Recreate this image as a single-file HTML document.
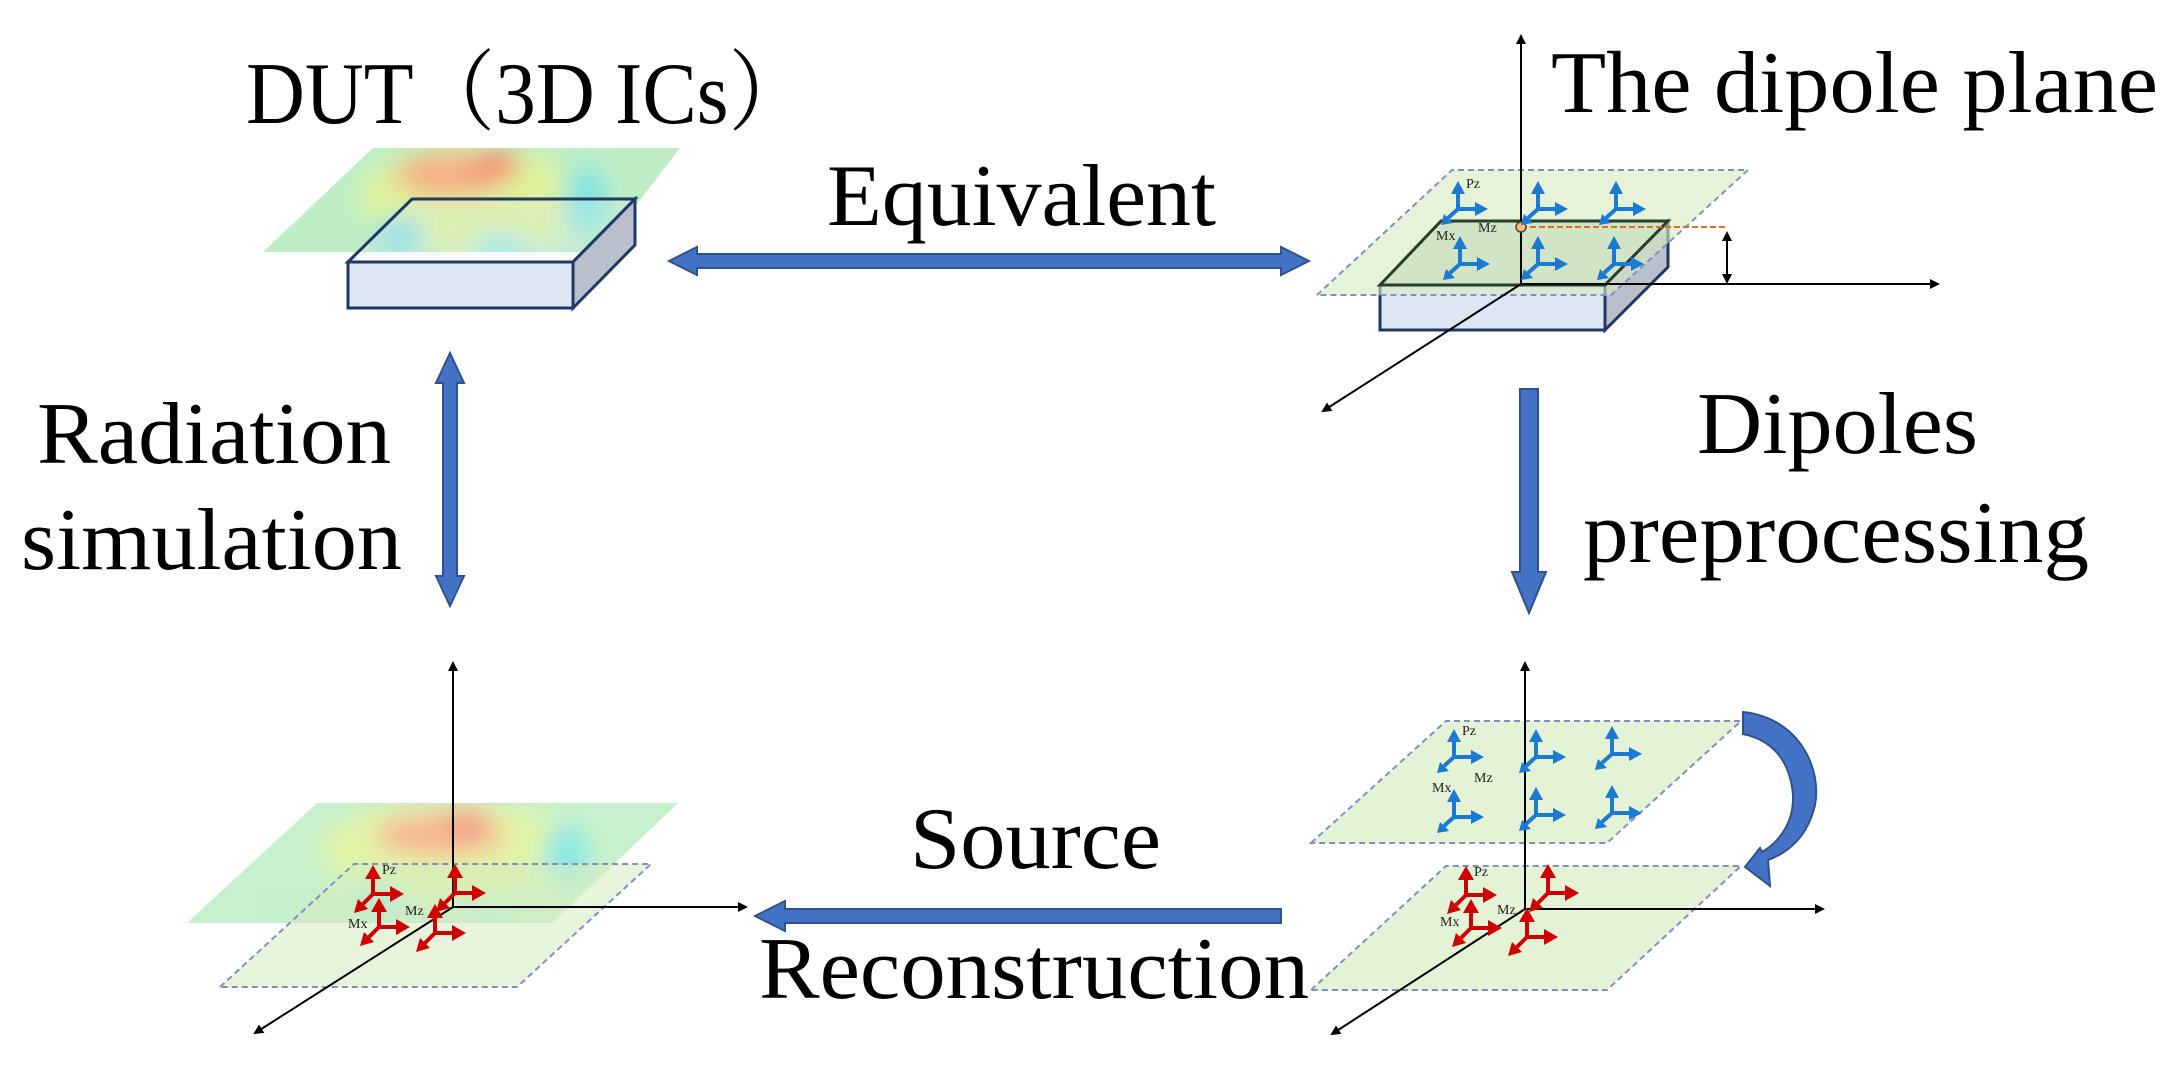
<!DOCTYPE html>
<html><head><meta charset="utf-8"><style>html,body{margin:0;padding:0;background:#fff}svg{display:block}.t{font-family:"Liberation Serif","Times New Roman",serif}.c{font-family:"Liberation Serif","Noto Serif CJK SC",serif}</style></head>
<body>
<svg width="2169" height="1067" viewBox="0 0 2169 1067" xmlns="http://www.w3.org/2000/svg">
<defs>
<filter id="bl" x="-30%" y="-30%" width="160%" height="160%"><feGaussianBlur stdDeviation="12"/></filter>
<marker id="ah" markerWidth="10" markerHeight="10" refX="8" refY="5" orient="auto" markerUnits="userSpaceOnUse"><path d="M0,0 L10,5 L0,10 Z" fill="#000"/></marker>
<g id="bd">
<path d="M0,0 L0,-17 M0,0 L19,0 M0,0 L-10,9" stroke="#1a7ad4" stroke-width="4" fill="none"/>
<path d="M0,-28 L-7,-15 L7,-15 Z M30,0 L17,-7 L17,7 Z M-17,16 L-5,14 L-14,5 Z" fill="#1a7ad4"/>
</g>
<g id="rd">
<path d="M0,0 L0,-17 M0,0 L19,0 M0,0 L-10,10" stroke="#d00000" stroke-width="4" fill="none"/>
<path d="M0,-29 L-8,-15 L8,-15 Z M31,0 L17,-8 L17,8 Z M-19,19 L-5,15 L-15,5 Z" fill="#d00000"/>
</g>
<clipPath id="c1"><path d="M263,252 L373,148 L680,148 L600,252 Z"/></clipPath>
<clipPath id="c2"><path d="M187,923 L317,803 L678,803 L552,923 Z"/></clipPath>
</defs>

<!-- Text -->
<g class="t" font-size="88" fill="#000">
<text class="c" x="246" y="123" textLength="564" lengthAdjust="spacingAndGlyphs">DUT（3D ICs）</text>
<text x="1551" y="112" textLength="607" lengthAdjust="spacingAndGlyphs">The dipole plane</text>
<text x="827" y="225" textLength="389" lengthAdjust="spacingAndGlyphs">Equivalent</text>
<text x="37" y="463" textLength="354" lengthAdjust="spacingAndGlyphs">Radiation</text>
<text x="21" y="569" textLength="381" lengthAdjust="spacingAndGlyphs">simulation</text>
<text x="1697" y="453" textLength="281" lengthAdjust="spacingAndGlyphs">Dipoles</text>
<text x="1583" y="562" textLength="506" lengthAdjust="spacingAndGlyphs">preprocessing</text>
<text x="910" y="868" textLength="251" lengthAdjust="spacingAndGlyphs">Source</text>
<text x="759" y="998" textLength="550" lengthAdjust="spacingAndGlyphs">Reconstruction</text>
</g>

<!-- Top-left heatmap -->
<g clip-path="url(#c1)" opacity="0.85">
<rect x="250" y="140" width="450" height="120" fill="#b4ecbc"/>
<g filter="url(#bl)">
<ellipse cx="470" cy="200" rx="110" ry="55" fill="#d8f08a"/>
<ellipse cx="450" cy="175" rx="55" ry="22" fill="#f4a070"/>
<ellipse cx="495" cy="165" rx="25" ry="16" fill="#f07a60"/>
<ellipse cx="400" cy="235" rx="25" ry="18" fill="#68d8e0"/>
<ellipse cx="585" cy="200" rx="22" ry="35" fill="#70e0dc"/>
<ellipse cx="500" cy="245" rx="30" ry="12" fill="#80e6e0"/>
</g>
</g>
<path d="M348,262 L412,199 L635,199 L573,262 Z" fill="#dfe9f5" fill-opacity="0.25" stroke="#1f3864" stroke-width="3"/>
<rect x="348" y="262" width="225" height="46" fill="#dde8f4" stroke="#1f3864" stroke-width="3"/>
<path d="M573,262 L635,199 L635,245 L573,308 Z" fill="#b9c0cb" stroke="#1f3864" stroke-width="3"/>

<path d="M669,261 L697,247 L697,254 L1281,254 L1281,247 L1309,261 L1281,275 L1281,268 L697,268 L697,275 Z" fill="#4472c4" stroke="#2f528f" stroke-width="2"/>

<!-- Top-right -->
<rect x="1380" y="285" width="225" height="45" fill="#dde8f4" stroke="#1f3864" stroke-width="3"/>
<path d="M1605,285 L1668,221 L1668,267 L1605,330 Z" fill="#b9c0cb" stroke="#1f3864" stroke-width="3"/>
<path d="M1317,295 L1452,170 L1748,170 L1611,295 Z" fill="#d6ebc0" fill-opacity="0.6" stroke="#8090c0" stroke-width="2" stroke-dasharray="6,4"/>
<path d="M1380,285 L1441,221 L1668,221 L1605,285 Z" fill="#a8c8a0" fill-opacity="0.35" stroke="#24402c" stroke-width="3"/>
<line x1="1521" y1="284" x2="1521" y2="36" stroke="#000" stroke-width="2" marker-end="url(#ah)"/>
<line x1="1521" y1="284" x2="1938" y2="284" stroke="#000" stroke-width="2" marker-end="url(#ah)"/>
<line x1="1521" y1="284" x2="1323" y2="411" stroke="#000" stroke-width="2" marker-end="url(#ah)"/>
<line x1="1521" y1="227" x2="1725" y2="227" stroke="#e07020" stroke-width="2" stroke-dasharray="6,3"/>
<circle cx="1521" cy="227" r="5" fill="#f0c080" stroke="#604020" stroke-width="1.5"/>
<line x1="1727" y1="236" x2="1727" y2="279" stroke="#000" stroke-width="2"/>
<path d="M1727,231 L1722,241 L1732,241 Z M1727,284 L1722,274 L1732,274 Z" fill="#000"/>
<use href="#bd" x="1458" y="209"/><use href="#bd" x="1538" y="209"/><use href="#bd" x="1616" y="209"/>
<use href="#bd" x="1460" y="264"/><use href="#bd" x="1538" y="264"/><use href="#bd" x="1614" y="264"/>
<g class="t" font-size="14" fill="#222">
<text x="1466" y="188">Pz</text><text x="1478" y="232">Mz</text><text x="1436" y="240">Mx</text>
</g>

<path d="M450,353 L464,383 L457,383 L457,576 L464,576 L450,606 L436,576 L443,576 L443,383 L436,383 Z" fill="#4472c4" stroke="#2f528f" stroke-width="2"/>
<path d="M1520,389 L1538,389 L1538,572 L1546,572 L1529,613 L1512,572 L1520,572 Z" fill="#4472c4" stroke="#2f528f" stroke-width="2"/>
<path d="M1281,909 L785,909 L785,901 L755,916 L785,931 L785,923 L1281,923 Z" fill="#4472c4" stroke="#2f528f" stroke-width="2"/>

<!-- Bottom-left -->
<g clip-path="url(#c2)" opacity="0.75">
<rect x="180" y="795" width="510" height="140" fill="#b4ecbc"/>
<g filter="url(#bl)">
<ellipse cx="450" cy="850" rx="130" ry="50" fill="#d8f08a"/>
<ellipse cx="440" cy="835" rx="65" ry="22" fill="#f4a070"/>
<ellipse cx="465" cy="822" rx="25" ry="14" fill="#f07a60"/>
<ellipse cx="565" cy="855" rx="22" ry="30" fill="#60e0e0"/>
<ellipse cx="380" cy="900" rx="25" ry="15" fill="#70d8e0"/>
<ellipse cx="490" cy="912" rx="25" ry="10" fill="#80e6e0"/>
</g>
</g>
<path d="M220,987 L354,864 L651,864 L517,987 Z" fill="#d6ebc0" fill-opacity="0.55" stroke="#8090c0" stroke-width="2" stroke-dasharray="6,4"/>
<line x1="453" y1="907" x2="453" y2="663" stroke="#000" stroke-width="2" marker-end="url(#ah)"/>
<line x1="453" y1="907" x2="746" y2="907" stroke="#000" stroke-width="2" marker-end="url(#ah)"/>
<line x1="453" y1="907" x2="255" y2="1033" stroke="#000" stroke-width="2" marker-end="url(#ah)"/>
<use href="#rd" x="373" y="894"/><use href="#rd" x="455" y="893"/><use href="#rd" x="379" y="927"/><use href="#rd" x="435" y="933"/>
<g class="t" font-size="14" fill="#222">
<text x="382" y="874">Pz</text><text x="405" y="915">Mz</text><text x="348" y="928">Mx</text>
</g>

<!-- Bottom-right -->
<path d="M1311,843 L1446,721 L1741,721 L1607,843 Z" fill="#d6ebc0" fill-opacity="0.65" stroke="#8090c0" stroke-width="2" stroke-dasharray="6,4"/>
<path d="M1311,990 L1446,866 L1741,866 L1607,990 Z" fill="#d6ebc0" fill-opacity="0.65" stroke="#8090c0" stroke-width="2" stroke-dasharray="6,4"/>
<line x1="1525" y1="909" x2="1525" y2="663" stroke="#000" stroke-width="2" marker-end="url(#ah)"/>
<line x1="1525" y1="909" x2="1823" y2="909" stroke="#000" stroke-width="2" marker-end="url(#ah)"/>
<line x1="1525" y1="909" x2="1332" y2="1034" stroke="#000" stroke-width="2" marker-end="url(#ah)"/>
<use href="#bd" x="1454" y="757"/><use href="#bd" x="1536" y="757"/><use href="#bd" x="1612" y="754"/>
<use href="#bd" x="1454" y="817"/><use href="#bd" x="1536" y="815"/><use href="#bd" x="1612" y="813"/>
<use href="#rd" x="1466" y="895"/><use href="#rd" x="1548" y="893"/><use href="#rd" x="1471" y="928"/><use href="#rd" x="1527" y="937"/>
<g class="t" font-size="14" fill="#222">
<text x="1462" y="735">Pz</text><text x="1474" y="782">Mz</text><text x="1432" y="792">Mx</text>
<text x="1474" y="876">Pz</text><text x="1497" y="914">Mz</text><text x="1440" y="926">Mx</text>
</g>
<path d="M1743,712 C1800,718 1822,770 1815,805 C1808,835 1790,852 1768,860 L1770,886 L1745,867 L1760,848 L1762,852 C1782,840 1794,820 1793,795 C1790,760 1772,740 1743,734 Z" fill="#4472c4" stroke="#2f528f" stroke-width="2"/>
</svg>
</body></html>
